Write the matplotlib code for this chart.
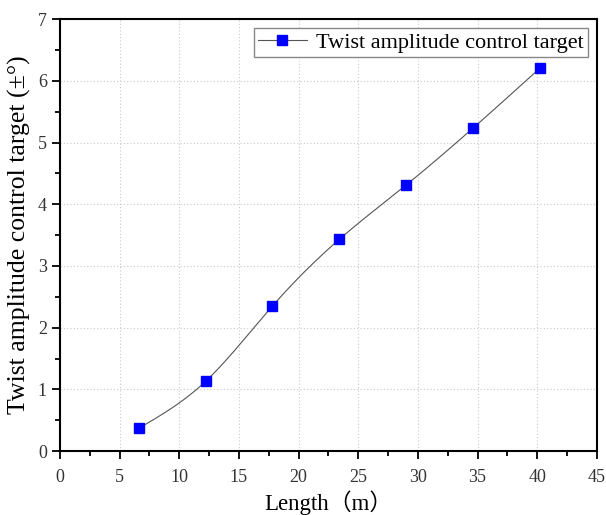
import numpy as np
import matplotlib
matplotlib.use("Agg")
import matplotlib.pyplot as plt
from matplotlib.ticker import MultipleLocator

length_m = [6.6, 12.2, 17.8, 23.4, 29.0, 34.6, 40.2]
twist_target = [0.37, 1.13, 2.35, 3.43, 4.31, 5.23, 6.20]
series_label = "Twist amplitude control target"
x_label = "Length（m）"
y_label = "Twist amplitude control target (±°)"


def natural_spline(x, y, n=300):
    x = np.asarray(x, float); y = np.asarray(y, float)
    m = len(x); h = np.diff(x)
    A = np.zeros((m, m)); r = np.zeros(m)
    A[0, 0] = A[-1, -1] = 1
    for i in range(1, m - 1):
        A[i, i - 1] = h[i - 1]; A[i, i] = 2 * (h[i - 1] + h[i]); A[i, i + 1] = h[i]
        r[i] = 3 * ((y[i + 1] - y[i]) / h[i] - (y[i] - y[i - 1]) / h[i - 1])
    c = np.linalg.solve(A, r)
    b = (np.diff(y) / h) - h * (2 * c[:-1] + c[1:]) / 3
    d = np.diff(c) / (3 * h)
    xs = np.linspace(x[0], x[-1], n)
    idx = np.clip(np.searchsorted(x, xs) - 1, 0, m - 2)
    dx = xs - x[idx]
    ys = y[idx] + b[idx] * dx + c[idx] * dx ** 2 + d[idx] * dx ** 3
    return xs, ys


serif = ["Liberation Serif", "Noto Sans CJK SC", "DejaVu Serif"]
plt.rcParams["font.family"] = serif

fig = plt.figure(figsize=(6.06, 5.15), dpi=100)
ax = fig.add_axes([0.099, 0.124, 0.886, 0.839])

xs, ys = natural_spline(length_m, twist_target)
ax.plot(xs, ys, color="#555555", lw=0.8, zorder=2)
ax.plot(length_m, twist_target, ls="none", marker="s", ms=7, color="#0000ff", zorder=3)
h, = ax.plot([], [], color="#555555", lw=0.8, marker="s", ms=7, mfc="#0000ff", mec="#0000ff")

ax.set_xlim(0, 45)
ax.set_ylim(0, 7)
ax.xaxis.set_major_locator(MultipleLocator(5))
ax.xaxis.set_minor_locator(MultipleLocator(2.5))
ax.yaxis.set_major_locator(MultipleLocator(1))
ax.yaxis.set_minor_locator(MultipleLocator(0.5))
ax.tick_params(which="major", direction="out", length=6, width=1.3, labelsize=13,
               labelcolor="#333333", top=False, right=False)
ax.tick_params(axis="x", which="major", pad=7)
ax.tick_params(which="minor", direction="out", length=3.5, width=1.3, top=False, right=False)
for s in ax.spines.values():
    s.set_linewidth(1.5)
ax.grid(True, which="major", ls=(0, (1, 2)), color="#c8c8c8", lw=0.8)
ax.set_axisbelow(True)

ax.set_xlabel(x_label, fontsize=16.5, labelpad=3)
ax.set_ylabel(y_label, fontsize=18.5, labelpad=5)

leg = ax.legend([h], [series_label], loc="upper right", fontsize=16, fancybox=False,
                edgecolor="#888888", framealpha=1, borderpad=0.2, handlelength=2.2,
                handletextpad=0.4, borderaxespad=0.4)
leg.get_frame().set_linewidth(1.0)

fig.savefig("out.png", dpi=100)
